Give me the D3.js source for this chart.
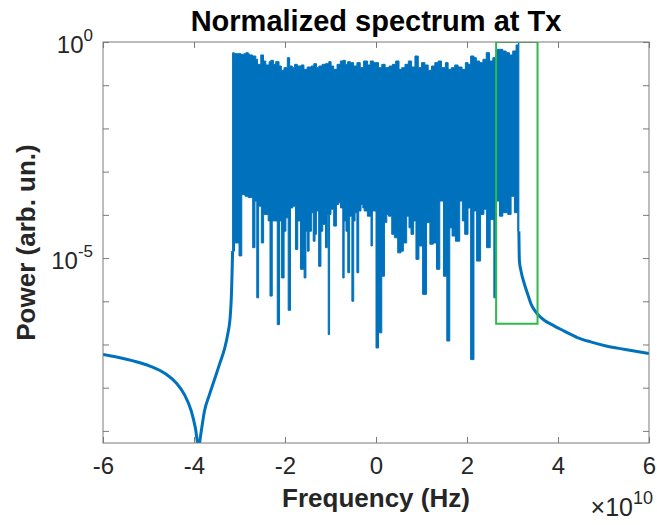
<!DOCTYPE html>
<html>
<head>
<meta charset="utf-8">
<script src="https://cdn.jsdelivr.net/npm/d3@7"></script>
<style>
  body { margin: 0; background: #fff; }
  svg { display: block; }
  text { font-family: "Liberation Sans", Arial, Helvetica, sans-serif; fill: #262626; }
</style>
</head>
<body>
<div id="chart"></div>
<script>
'use strict';

// frequency in units of 1e10 Hz, power in dB (normalized, 0 dB = 1)
let leftFreq = [-6.00, -5.70, -5.34, -4.97, -4.61, -4.39, -4.21, -4.06, -3.97, -3.90,
    -3.84, -3.77, -3.66, -3.55, -3.44, -3.33, -3.26, -3.20, -3.174, -3.16, -3.152];
let leftDb = [-72.3, -72.9, -73.8, -75.0, -76.9, -78.9, -81.6, -85.4, -89.3, -93.6,
    -90.0, -85.4, -81.6, -78.1, -74.6, -71.0, -67.7, -63.0, -57.6, -52.0, -48.4];

let bandTopFreq = [-3.152, -3.114, -3.042, -2.969, -2.896, -2.859, -2.808, -2.787, -2.714, -2.641,
    -2.604, -2.568, -2.532, -2.473, -2.422, -2.349, -2.313, -2.255, -2.204, -2.131,
    -2.080, -2.022, -1.949, -1.898, -1.839, -1.788, -1.730, -1.643, -1.584, -1.512,
    -1.424, -1.366, -1.307, -1.256, -1.184, -1.111, -1.038, -0.987, -0.929, -0.856,
    -0.783, -0.725, -0.674, -0.623, -0.564, -0.492, -0.419, -0.346, -0.273, -0.185,
    -0.127, -0.054, -0.018, 0.055, 0.127, 0.200, 0.288, 0.361, 0.433, 0.506,
    0.565, 0.637, 0.710, 0.783, 0.856, 0.929, 1.002, 1.075, 1.147, 1.220,
    1.293, 1.366, 1.439, 1.526, 1.585, 1.657, 1.730, 1.803, 1.891, 1.964,
    2.022, 2.080, 2.153, 2.204, 2.277, 2.350, 2.423, 2.495, 2.568, 2.641,
    2.714, 2.787, 2.860, 2.933, 3.005, 3.078, 3.129, 3.140];
let bandTopDb = [-2.5, -2.7, -2.7, -2.85, -2.7, -2.47, -2.7, -3.0, -3.24, -4.0,
    -5.17, -5.17, -3.0, -4.4, -5.32, -4.55, -4.24, -5.17, -4.55, -5.56,
    -6.56, -5.94, -3.63, -5.56, -5.94, -5.17, -5.56, -5.32, -6.33, -5.79,
    -5.56, -5.02, -5.94, -5.56, -5.17, -5.02, -4.55, -5.56, -6.33, -5.17,
    -4.4, -4.24, -5.17, -4.55, -4.78, -5.56, -4.78, -5.94, -4.4, -5.32,
    -4.4, -4.78, -4.78, -5.94, -5.17, -5.94, -5.56, -5.17, -4.4, -6.33,
    -5.94, -5.17, -4.4, -5.79, -3.24, -5.94, -4.78, -5.32, -6.56, -5.56,
    -4.78, -4.4, -5.94, -4.78, -6.33, -5.94, -5.32, -5.79, -6.33, -4.78,
    -5.17, -3.24, -3.63, -4.4, -4.78, -4.01, -2.47, -4.4, -3.63, -1.7,
    -1.7, -2.08, -2.47, -3.01, -2.08, -0.69, 0.0, 0.0];

let bandLowFreq = [-3.152, -3.11, -3.04, -3.01, -2.95, -2.88, -2.81, -2.75, -2.71, -2.66,
    -2.62, -2.58, -2.52, -2.47, -2.42, -2.37, -2.33, -2.28, -2.23, -2.17,
    -2.12, -2.08, -2.02, -1.98, -1.93, -1.88, -1.83, -1.77, -1.72, -1.66,
    -1.58, -1.54, -1.51, -1.47, -1.42, -1.38, -1.34, -1.31, -1.26, -1.21,
    -1.17, -1.11, -1.07, -1.05, -1.02, -0.99, -0.93, -0.87, -0.82, -0.78,
    -0.73, -0.70, -0.66, -0.62, -0.58, -0.53, -0.49, -0.46, -0.42, -0.38,
    -0.33, -0.29, -0.26, -0.19, -0.11, -0.08, 0.00, 0.055, 0.127, 0.186,
    0.237, 0.273, 0.346, 0.404, 0.477, 0.550, 0.601, 0.674, 0.725, 0.769,
    0.827, 0.878, 0.943, 1.024, 1.111, 1.184, 1.257, 1.330, 1.402, 1.483,
    1.556, 1.621, 1.672, 1.745, 1.840, 1.898, 1.949, 2.022, 2.080, 2.153,
    2.211, 2.299, 2.372, 2.430, 2.510, 2.590, 2.641, 2.714, 2.787, 2.896,
    2.969, 3.042, 3.115, 3.140];
let bandLowDb = [-48.4, -46.5, -46.5, -49.5, -35.3, -35.7, -36.0, -36.0, -47.6, -36.8,
    -59.2, -38.0, -46.5, -39.9, -39.9, -41.4, -58.8, -41.4, -41.4, -65.4,
    -41.4, -54.6, -43.8, -40.7, -62.1, -38.4, -38.0, -48.0, -41.4, -52.6,
    -54.6, -43.8, -48.4, -43.8, -39.5, -46.1, -44.5, -39.1, -51.9, -43.8,
    -42.2, -47.6, -39.9, -67.7, -39.9, -38.7, -42.6, -37.6, -37.2, -38.4,
    -54.6, -41.4, -43.8, -53.4, -40.3, -60.0, -41.4, -39.5, -53.4, -39.1,
    -37.6, -38.4, -39.1, -40.3, -47.2, -39.1, -70.8, -67.3, -54.2, -41.8,
    -39.9, -40.3, -44.5, -45.3, -48.8, -48.4, -46.5, -40.3, -43.0, -44.5,
    -41.4, -50.3, -47.2, -58.4, -41.8, -46.8, -46.5, -52.6, -36.8, -54.2,
    -69.2, -43.0, -44.9, -46.1, -36.8, -41.4, -44.5, -38.4, -73.5, -39.1,
    -50.7, -39.9, -38.7, -47.6, -41.1, -59.2, -36.8, -40.3, -39.5, -39.9,
    -35.7, -39.5, -43.8, -43.8];

let rightFreq = [3.140, 3.152, 3.187, 3.261, 3.333, 3.406, 3.480, 3.552, 3.698, 3.843,
    4.136, 4.426, 4.717, 5.082, 5.447, 6.000];
let rightDb = [-43.8, -50.7, -53.0, -56.0, -58.3, -60.6, -62.0, -63.0, -64.4, -65.3,
    -66.9, -68.4, -69.4, -70.4, -71.1, -72.1];

// highlighted region (green rectangle)
let boxFreq = [2.64, 3.55];
let boxDb = [-65.2, 0];

let xTicks = [-6, -4, -2, 0, 2, 4, 6];
let yDecades = [0, -1, -2, -3, -4, -5, -6, -7, -8, -9];
let yLabelled = [0, -5];

let width = 657, height = 525;
let margin = { top: 42, right: 8, bottom: 82, left: 103 };
let w = width - margin.left - margin.right;
let h = height - margin.top - margin.bottom;

let lineColor = '#0072bd';
let axisColor = '#7a7a7a';

function dbToPow(d) {
    return Math.pow(10, d / 10);
}
function zip(fs, ds) {
    return fs.map(function(f, i) { return { f: f, p: dbToPow(ds[i]) }; });
}

let svg = d3.select('#chart').append('svg')
    .attr('width', width)
    .attr('height', height);

let g = svg.append('g')
    .attr('transform', 'translate(' + margin.left + ',' + margin.top + ')');

let x = d3.scaleLinear().domain([-6, 6]).range([0, w]);
let y = d3.scaleLog().domain([Math.pow(10, -9.28), 1]).range([h, 0]);

svg.append('defs').append('clipPath').attr('id', 'plot-clip')
    .append('rect').attr('width', w).attr('height', h);

let plot = g.append('g').attr('clip-path', 'url(#plot-clip)');

// dense part of the spectrum: upper envelope down to a floor, floor down to lower envelope
let floorPow = dbToPow(-30);
let areaTop = d3.area()
    .curve(d3.curveStepAfter)
    .x(function(d) { return x(d.f); })
    .y0(function() { return y(floorPow); })
    .y1(function(d) { return y(d.p); });

plot.append('path')
    .datum(zip(bandTopFreq, bandTopDb))
    .attr('d', areaTop)
    .style('fill', lineColor)
    .style('stroke', lineColor)
    .style('stroke-width', 1);

plot.append('path')
    .datum(zip(bandLowFreq, bandLowDb))
    .attr('d', areaTop)
    .style('fill', lineColor)
    .style('stroke', lineColor)
    .style('stroke-width', 1);

// smooth skirts outside the band
let line = d3.line()
    .curve(d3.curveMonotoneX)
    .x(function(d) { return x(d.f); })
    .y(function(d) { return y(d.p); });

[zip(leftFreq, leftDb), zip(rightFreq, rightDb)].forEach(function(dat) {
    plot.append('path')
        .datum(dat)
        .attr('d', line)
        .style('fill', 'none')
        .style('stroke', lineColor)
        .style('stroke-width', 3)
        .style('stroke-linejoin', 'round');
});

// axes, ticks pointing inwards
let xAxis = d3.axisBottom(x).tickValues(xTicks).tickSize(-6).tickPadding(14)
    .tickFormat(function(d) { return d; });
let xAxisTop = d3.axisTop(x).tickValues(xTicks).tickSize(-6).tickFormat('');
let yAxis = d3.axisLeft(y).tickValues(yDecades.map(function(e) { return Math.pow(10, e); }))
    .tickSize(-6).tickFormat('');
let yAxisRight = d3.axisRight(y).tickValues(yDecades.map(function(e) { return Math.pow(10, e); }))
    .tickSize(-6).tickFormat('');

let gx = g.append('g').attr('transform', 'translate(0,' + h + ')').call(xAxis);
g.append('g').call(xAxisTop);
g.append('g').call(yAxis);
g.append('g').attr('transform', 'translate(' + w + ',0)').call(yAxisRight);

g.selectAll('.domain').remove();
g.selectAll('.tick line').style('stroke', axisColor);
gx.selectAll('text')
    .style('font-size', '24px')
    .style('fill', '#262626');

g.append('rect')
    .attr('width', w)
    .attr('height', h)
    .style('fill', 'none')
    .style('stroke', axisColor)
    .style('stroke-width', 1);

// y tick labels as powers of ten
yLabelled.forEach(function(e) {
    let t = g.append('text')
        .attr('x', -10)
        .attr('y', y(Math.pow(10, e)) + 11)
        .attr('text-anchor', 'end')
        .style('font-size', '24px');
    t.append('tspan').text('10');
    t.append('tspan').attr('dy', -12).style('font-size', '17px').text(e);
});

// green highlight rectangle
plot.append('rect')
    .attr('x', x(boxFreq[0]))
    .attr('y', y(dbToPow(boxDb[1])))
    .attr('width', x(boxFreq[1]) - x(boxFreq[0]))
    .attr('height', y(dbToPow(boxDb[0])) - y(dbToPow(boxDb[1])))
    .style('fill', 'none')
    .style('stroke', '#2fb94c')
    .style('stroke-width', 2);

// titles
svg.append('text')
    .attr('x', margin.left + w / 2)
    .attr('y', 31)
    .attr('text-anchor', 'middle')
    .style('font-size', '29px')
    .style('font-weight', 'bold')
    .style('fill', '#000')
    .text('Normalized spectrum at Tx');

svg.append('text')
    .attr('x', margin.left + w / 2)
    .attr('y', 507)
    .attr('text-anchor', 'middle')
    .style('font-size', '26px')
    .style('font-weight', 'bold')
    .text('Frequency (Hz)');

svg.append('text')
    .attr('transform', 'translate(35,' + (margin.top + h / 2) + ') rotate(-90)')
    .attr('text-anchor', 'middle')
    .style('font-size', '26px')
    .style('font-weight', 'bold')
    .text('Power (arb. un.)');

let ex = svg.append('text')
    .attr('x', width - 4)
    .attr('y', 516)
    .attr('text-anchor', 'end')
    .style('font-size', '25px');
ex.append('tspan').text('\u00d710');
ex.append('tspan').attr('dy', -12).style('font-size', '18px').text('10');
</script>
</body>
</html>
